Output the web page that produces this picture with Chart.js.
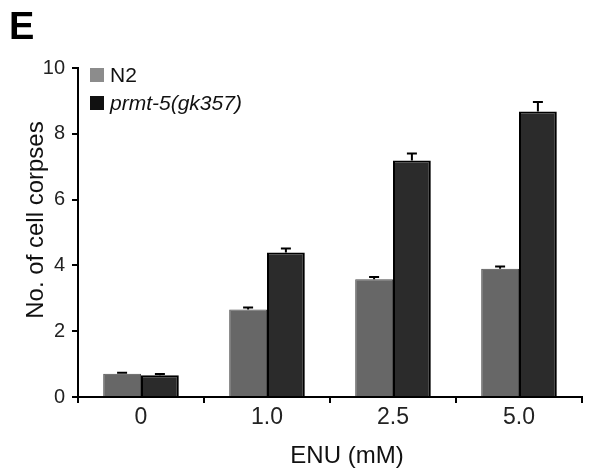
<!DOCTYPE html>
<html>
<head>
<meta charset="utf-8">
<script src="https://cdn.jsdelivr.net/npm/chart.js@4/dist/chart.umd.min.js"></script>
<style>
  body { margin: 0; background: #fff; }
  #wrap { width: 594px; height: 472px; }
</style>
</head>
<body>
<div id="wrap"><canvas id="chart" width="594" height="472"></canvas></div>
<script>
var categories = ['0', '1.0', '2.5', '5.0'];
var n2Values = [0.71, 2.66, 3.58, 3.90];
var n2Errors = [0.03, 0.06, 0.07, 0.07];
var mutValues = [0.66, 4.39, 7.19, 8.68];
var mutErrors = [0.04, 0.12, 0.21, 0.29];
var seriesNames = ['N2', 'prmt-5(gk357)'];
var yTicks = [0, 2, 4, 6, 8, 10];

var FONT = '"Liberation Sans", Arial, sans-serif';

// upward-only error bars with a cap, positioned from the bar elements
var errorBars = {
  id: 'errorBars',
  afterDatasetsDraw: (chart) => {
    var ctx = chart.ctx;
    var yScale = chart.scales.y;
    ctx.save();
    ctx.strokeStyle = '#000';
    ctx.lineWidth = 2;
    chart.data.datasets.forEach((ds, i) => {
      var meta = chart.getDatasetMeta(i);
      meta.data.forEach((bar, j) => {
        var top = yScale.getPixelForValue(ds.data[j] + ds.errors[j]);
        ctx.beginPath();
        ctx.moveTo(bar.x, bar.y);
        ctx.lineTo(bar.x, top);
        ctx.moveTo(bar.x - 5, top);
        ctx.lineTo(bar.x + 5, top);
        ctx.stroke();
      });
    });
    ctx.restore();
  }
};

// legend, panel letter and axis titles
var decorations = {
  id: 'decorations',
  afterDraw: (chart) => {
    var ctx = chart.ctx;
    ctx.save();
    ctx.fillStyle = '#000';
    ctx.font = 'bold 38px ' + FONT;
    ctx.textBaseline = 'alphabetic';
    ctx.fillText('E', 9, 39);

    var swatch = ['#8c8c8c', '#111111'];
    var rowY = [75, 103];
    seriesNames.forEach((name, i) => {
      ctx.fillStyle = swatch[i];
      ctx.fillRect(90, rowY[i] - 7, 14, 14);
      ctx.fillStyle = '#111';
      ctx.font = (i == 1 ? 'italic ' : '') + '21px ' + FONT;
      ctx.textBaseline = 'middle';
      ctx.fillText(name, 110, rowY[i] + 1);
    });

    ctx.fillStyle = '#111';
    ctx.font = '24px ' + FONT;
    ctx.textAlign = 'center';
    ctx.textBaseline = 'alphabetic';
    ctx.fillText('ENU (mM)', 347, 463);

    ctx.translate(43, 220);
    ctx.rotate(-Math.PI / 2);
    ctx.fillText('No. of cell corpses', 0, 0);
    ctx.restore();
  }
};

var ctx = document.getElementById('chart').getContext('2d');
var chart = new Chart(ctx, {
  type: 'bar',
  data: {
    labels: categories,
    datasets: [{
      label: seriesNames[0],
      data: n2Values,
      errors: n2Errors,
      backgroundColor: '#676767',
      borderColor: '#4d4d4d',
      borderWidth: 1
    }, {
      label: seriesNames[1],
      data: mutValues,
      errors: mutErrors,
      backgroundColor: '#2b2b2b',
      borderColor: '#000',
      borderWidth: 2
    }]
  },
  options: {
    responsive: false,
    animation: false,
    categoryPercentage: 0.6,
    barPercentage: 1.0,
    layout: { padding: { left: 0, right: 12, top: 68, bottom: 0 } },
    plugins: {
      legend: { display: false },
      tooltip: { enabled: false }
    },
    scales: {
      x: {
        afterFit: (scale) => { scale.height = 75; },
        grid: {
          offset: true,
          drawOnChartArea: false,
          drawTicks: true,
          tickLength: 6,
          color: '#000',
          lineWidth: 2
        },
        border: { color: '#000', width: 2 },
        ticks: {
          color: '#222',
          padding: 1,
          font: { family: FONT, size: 23 }
        }
      },
      y: {
        min: 0,
        max: 10,
        afterFit: (scale) => { scale.width = 78; },
        afterBuildTicks: (scale) => {
          scale.ticks = yTicks.map((v) => ({ value: v }));
        },
        grid: {
          drawOnChartArea: false,
          drawTicks: true,
          tickLength: 6,
          color: '#000',
          lineWidth: 2
        },
        border: { color: '#000', width: 2 },
        ticks: {
          color: '#222',
          padding: 7,
          font: { family: FONT, size: 20 }
        }
      }
    }
  },
  plugins: [errorBars, decorations]
});
</script>
</body>
</html>
